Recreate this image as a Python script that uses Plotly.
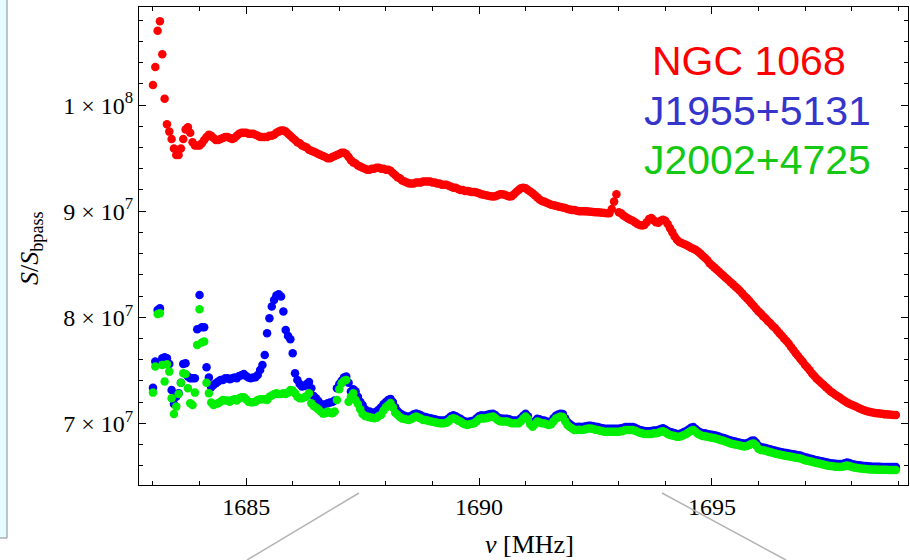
import plotly.graph_objects as go

# Channel frequencies (MHz) of the spectra: 320 channels, 0.05 MHz apart
FREQ_MHZ = [round(1683.0 + 0.05 * k, 2) for k in range(320)]

# S / S_bpass in units of 1e7, one value per channel
NGC1068_E7 = [
    10.19, 10.36, 10.70, 10.79, 10.48, 10.06, 9.82, 9.75, 9.68, 9.59, 9.53, 9.53, 9.59, 9.68, 9.77, 9.79, 9.74, 9.65, 9.62, 9.62,
    9.62, 9.64, 9.67, 9.70, 9.72, 9.71, 9.69, 9.67, 9.67, 9.68, 9.69, 9.70, 9.70, 9.69, 9.68, 9.69, 9.71, 9.73, 9.74, 9.74,
    9.74, 9.73, 9.73, 9.73, 9.72, 9.71, 9.70, 9.70, 9.70, 9.70, 9.71, 9.71, 9.72, 9.74, 9.75, 9.76, 9.76, 9.75, 9.73, 9.71,
    9.69, 9.67, 9.65, 9.64, 9.62, 9.61, 9.60, 9.58, 9.57, 9.56, 9.55, 9.54, 9.53, 9.52, 9.51, 9.50, 9.50, 9.51, 9.52, 9.53,
    9.54, 9.55, 9.55, 9.54, 9.51, 9.48, 9.46, 9.45, 9.43, 9.42, 9.41, 9.40, 9.39, 9.39, 9.40, 9.40, 9.41, 9.41, 9.40, 9.40,
    9.39, 9.39, 9.38, 9.36, 9.34, 9.32, 9.31, 9.29, 9.28, 9.27, 9.26, 9.26, 9.26, 9.27, 9.27, 9.27, 9.28, 9.28, 9.28, 9.28,
    9.27, 9.27, 9.26, 9.26, 9.25, 9.25, 9.25, 9.24, 9.23, 9.22, 9.22, 9.21, 9.20, 9.20, 9.19, 9.19, 9.185, 9.18, 9.18, 9.175,
    9.17, 9.16, 9.155, 9.15, 9.145, 9.14, 9.138, 9.14, 9.15, 9.16, 9.16, 9.155, 9.145, 9.138, 9.14, 9.16, 9.18, 9.20, 9.215, 9.22,
    9.215, 9.20, 9.185, 9.17, 9.15, 9.13, 9.11, 9.095, 9.09, 9.08, 9.07, 9.06, 9.055, 9.05, 9.045, 9.04, 9.035, 9.03, 9.02, 9.015,
    9.012, 9.01, 9.005, 9.00, 9.00, 9.00, 8.998, 8.996, 8.995, 8.993, 8.99, 8.99, 8.988, 8.985, 8.983, 8.98, 8.98, 9.02, 9.09, 9.16,
    8.99, 8.98, 8.96, 8.945, 8.93, 8.92, 8.91, 8.895, 8.88, 8.87, 8.865, 8.87, 8.895, 8.925, 8.935, 8.915, 8.895, 8.89, 8.91, 8.92,
    8.91, 8.88, 8.84, 8.80, 8.76, 8.73, 8.71, 8.70, 8.69, 8.68, 8.67, 8.655, 8.645, 8.635, 8.62, 8.60, 8.58, 8.56, 8.54, 8.51,
    8.49, 8.47, 8.45, 8.43, 8.41, 8.39, 8.37, 8.35, 8.33, 8.31, 8.29, 8.27, 8.25, 8.225, 8.20, 8.18, 8.155, 8.13, 8.105, 8.08,
    8.055, 8.035, 8.01, 7.99, 7.965, 7.945, 7.92, 7.90, 7.875, 7.85, 7.825, 7.80, 7.775, 7.75, 7.72, 7.69, 7.66, 7.635, 7.605, 7.58,
    7.55, 7.525, 7.50, 7.47, 7.445, 7.42, 7.40, 7.38, 7.36, 7.34, 7.32, 7.30, 7.285, 7.27, 7.255, 7.24, 7.225, 7.21, 7.195, 7.185,
    7.175, 7.165, 7.155, 7.145, 7.135, 7.125, 7.118, 7.112, 7.107, 7.102, 7.098, 7.095, 7.092, 7.089, 7.086, 7.084, 7.082, 7.080, 7.079, 7.078,
]

J1955_E7 = [
    7.336, 7.582, 8.069, 8.085, 7.613, 7.622, 7.613, 7.560, 7.314, 7.182, 7.251, 7.283, 7.383, 7.560, 7.566, 7.440, 7.424, 7.424, 7.424, 7.887,
    8.210, 7.905, 7.905, 7.528, 7.431, 7.339, 7.361, 7.377, 7.393, 7.409, 7.409, 7.424, 7.424, 7.415, 7.424, 7.431, 7.424, 7.446, 7.453, 7.465,
    7.446, 7.431, 7.424, 7.431, 7.434, 7.456, 7.503, 7.550, 7.644, 7.849, 7.990, 8.100, 8.163, 8.204, 8.217, 8.195, 8.053, 7.880, 7.824, 7.792,
    7.660, 7.472, 7.409, 7.371, 7.346, 7.352, 7.371, 7.390, 7.330, 7.258, 7.236, 7.211, 7.182, 7.173, 7.179, 7.189, 7.195, 7.201, 7.214, 7.330,
    7.371, 7.402, 7.431, 7.440, 7.383, 7.300, 7.321, 7.302, 7.251, 7.204, 7.173, 7.132, 7.113, 7.110, 7.100, 7.100, 7.110, 7.130, 7.150, 7.180,
    7.200, 7.220, 7.230, 7.200, 7.150, 7.115, 7.095, 7.080, 7.070, 7.065, 7.062, 7.070, 7.085, 7.092, 7.085, 7.075, 7.062, 7.058, 7.052, 7.047,
    7.042, 7.037, 7.032, 7.027, 7.027, 7.027, 7.032, 7.047, 7.067, 7.075, 7.067, 7.052, 7.043, 7.027, 7.017, 7.011, 7.017, 7.022, 7.027, 7.047,
    7.067, 7.075, 7.072, 7.075, 7.082, 7.087, 7.090, 7.077, 7.057, 7.047, 7.043, 7.043, 7.043, 7.037, 7.027, 7.027, 7.027, 7.027, 7.047, 7.072,
    7.090, 7.067, 7.017, 6.995, 7.017, 7.043, 7.037, 7.027, 7.027, 7.017, 7.011, 7.017, 7.047, 7.072, 7.082, 7.090, 7.087, 7.047, 7.011, 6.992,
    6.977, 6.964, 6.964, 6.967, 6.964, 6.967, 6.972, 6.977, 6.977, 6.972, 6.967, 6.964, 6.957, 6.952, 6.948, 6.948, 6.948, 6.948, 6.948, 6.948,
    6.948, 6.952, 6.957, 6.964, 6.964, 6.964, 6.964, 6.957, 6.947, 6.937, 6.932, 6.927, 6.925, 6.925, 6.927, 6.932, 6.932, 6.937, 6.947, 6.952,
    6.942, 6.927, 6.917, 6.912, 6.907, 6.900, 6.900, 6.907, 6.917, 6.927, 6.942, 6.957, 6.964, 6.947, 6.927, 6.916, 6.907, 6.905, 6.900, 6.895,
    6.891, 6.887, 6.882, 6.875, 6.867, 6.862, 6.853, 6.845, 6.837, 6.832, 6.827, 6.822, 6.817, 6.812, 6.807, 6.812, 6.822, 6.835, 6.837, 6.817,
    6.787, 6.775, 6.772, 6.767, 6.760, 6.755, 6.749, 6.743, 6.737, 6.732, 6.727, 6.723, 6.719, 6.715, 6.711, 6.707, 6.703, 6.699, 6.695, 6.687,
    6.679, 6.674, 6.669, 6.664, 6.657, 6.652, 6.647, 6.642, 6.637, 6.632, 6.627, 6.624, 6.621, 6.618, 6.616, 6.615, 6.617, 6.623, 6.630, 6.625,
    6.617, 6.611, 6.607, 6.604, 6.601, 6.598, 6.596, 6.594, 6.592, 6.591, 6.590, 6.589, 6.589, 6.588, 6.588, 6.588, 6.587, 6.587, 6.587, 6.587,
]

J2002_E7 = [
    7.289, 7.535, 8.031, 8.038, 7.550, 7.393, 7.556, 7.487, 7.236, 7.088, 7.157, 7.277, 7.383, 7.472, 7.465, 7.330, 7.189, 7.173, 7.289, 7.739,
    8.075, 7.761, 7.770, 7.383, 7.283, 7.195, 7.173, 7.182, 7.189, 7.204, 7.220, 7.214, 7.214, 7.204, 7.220, 7.226, 7.214, 7.236, 7.245, 7.245,
    7.226, 7.204, 7.198, 7.198, 7.204, 7.220, 7.226, 7.226, 7.226, 7.220, 7.251, 7.261, 7.273, 7.283, 7.277, 7.277, 7.283, 7.277, 7.289, 7.314,
    7.308, 7.283, 7.251, 7.236, 7.236, 7.245, 7.258, 7.283, 7.189, 7.163, 7.148, 7.132, 7.110, 7.091, 7.094, 7.110, 7.100, 7.094, 7.110, 7.220,
    7.321, 7.377, 7.402, 7.409, 7.204, 7.251, 7.283, 7.220, 7.182, 7.132, 7.088, 7.069, 7.063, 7.056, 7.053, 7.047, 7.053, 7.069, 7.080, 7.120,
    7.150, 7.170, 7.190, 7.150, 7.100, 7.080, 7.060, 7.045, 7.040, 7.035, 7.032, 7.040, 7.055, 7.063, 7.055, 7.045, 7.032, 7.030, 7.025, 7.020,
    7.015, 7.010, 7.005, 7.000, 7.000, 7.000, 7.005, 7.020, 7.040, 7.048, 7.040, 7.025, 7.016, 7.000, 6.990, 6.984, 6.990, 6.995, 7.000, 7.020,
    7.040, 7.048, 7.045, 7.048, 7.055, 7.060, 7.063, 7.050, 7.030, 7.020, 7.016, 7.016, 7.016, 7.010, 7.000, 7.000, 7.000, 7.000, 7.020, 7.045,
    7.063, 7.040, 6.990, 6.968, 6.990, 7.016, 7.010, 7.000, 7.000, 6.990, 6.984, 6.990, 7.020, 7.045, 7.055, 7.063, 7.060, 7.020, 6.984, 6.965,
    6.950, 6.937, 6.937, 6.940, 6.937, 6.940, 6.945, 6.950, 6.950, 6.945, 6.940, 6.937, 6.930, 6.925, 6.921, 6.921, 6.921, 6.921, 6.921, 6.921,
    6.921, 6.925, 6.930, 6.937, 6.937, 6.937, 6.937, 6.930, 6.920, 6.910, 6.905, 6.900, 6.898, 6.898, 6.900, 6.905, 6.905, 6.910, 6.920, 6.925,
    6.915, 6.900, 6.890, 6.885, 6.880, 6.873, 6.873, 6.880, 6.890, 6.900, 6.915, 6.930, 6.937, 6.920, 6.900, 6.889, 6.880, 6.878, 6.873, 6.868,
    6.864, 6.860, 6.855, 6.848, 6.840, 6.835, 6.826, 6.818, 6.810, 6.805, 6.800, 6.795, 6.790, 6.785, 6.780, 6.785, 6.795, 6.808, 6.810, 6.790,
    6.760, 6.748, 6.745, 6.740, 6.733, 6.728, 6.722, 6.716, 6.710, 6.705, 6.700, 6.696, 6.692, 6.688, 6.684, 6.680, 6.676, 6.672, 6.668, 6.660,
    6.652, 6.647, 6.642, 6.637, 6.630, 6.625, 6.620, 6.615, 6.610, 6.605, 6.600, 6.597, 6.594, 6.591, 6.589, 6.588, 6.590, 6.596, 6.603, 6.598,
    6.590, 6.584, 6.580, 6.577, 6.574, 6.571, 6.569, 6.567, 6.565, 6.564, 6.563, 6.562, 6.562, 6.561, 6.561, 6.561, 6.560, 6.560, 6.560, 6.560,
]

SERIES_NAMES = ["NGC 1068", "J1955+5131", "J2002+4725"]
X_TICKS = [1685, 1690, 1695]
Y_TICKS = [7e7, 8e7, 9e7, 1e8]
Y_TICK_TEXT = ["7 × 10<sup>7</sup>", "8 × 10<sup>7</sup>", "9 × 10<sup>7</sup>", "1 × 10<sup>8</sup>"]

MARKER_COLORS = ["#ff0000", "#0000ff", "#00ee00"]
LABEL_COLORS = ["#ff0000", "#3535cc", "#14c814"]

fig = go.Figure()
for name, vals, col in zip(SERIES_NAMES, [NGC1068_E7, J1955_E7, J2002_E7], MARKER_COLORS):
    fig.add_trace(go.Scatter(
        x=FREQ_MHZ, y=[v * 1e7 for v in vals], mode="markers", name=name,
        marker=dict(size=8.5, color=col, line=dict(width=0)),
        hoverinfo="skip",
    ))

serif = "Liberation Serif"
axis_common = dict(
    showline=True, linecolor="black", linewidth=1.2, mirror="allticks",
    ticks="inside", ticklen=7, tickwidth=1, tickcolor="black",
    showgrid=False, zeroline=False,
    tickfont=dict(family=serif, size=24, color="black"),
)

fig.update_xaxes(
    range=[1682.70, 1699.21], tickvals=X_TICKS, ticktext=[str(t) for t in X_TICKS],
    minor=dict(dtick=1, tick0=1683, ticks="inside", ticklen=4, tickwidth=1, tickcolor="black", showgrid=False),
    **axis_common,
)
fig.update_yaxes(
    range=[6.418e7, 10.925e7], tickvals=Y_TICKS, ticktext=Y_TICK_TEXT,
    minor=dict(dtick=2e6, tick0=0, ticks="inside", ticklen=4, tickwidth=1, tickcolor="black", showgrid=False),
    **axis_common,
)

L, R, T, B = 139, 2, 7, 75
W, H = 910, 560
pw, ph = W - L - R, H - T - B


def px(xp):
    return (xp - L) / pw


def py(yp):
    return (H - B - yp) / ph


annotations = [
    dict(text="<i>S</i>/<i>S</i><sub>bpass</sub>", x=px(31), y=py(248), xref="paper", yref="paper",
         textangle=-90, showarrow=False, xanchor="center", yanchor="middle",
         font=dict(family=serif, size=26, color="black")),
    dict(text="<i>ν</i> [MHz]", x=px(529), y=py(544), xref="paper", yref="paper",
         showarrow=False, xanchor="center", yanchor="middle",
         font=dict(family=serif, size=26, color="black")),
]
label_pos = [(650, 61), (642, 111), (642, 160)]
for name, col, (lx, ly) in zip(SERIES_NAMES, LABEL_COLORS, label_pos):
    annotations.append(dict(text=name, x=px(lx), y=py(ly), xref="paper", yref="paper",
                            showarrow=False, xanchor="left", yanchor="middle",
                            font=dict(family="Liberation Sans", size=41, color=col)))

shapes = [
    dict(type="rect", xref="paper", yref="paper", x0=px(-2), x1=px(7), y0=py(538), y1=py(-2),
         fillcolor="#e6fbff", line=dict(color="#8a8a8a", width=1), layer="below"),
    dict(type="line", xref="paper", yref="paper", x0=px(247), y0=py(560), x1=px(359), y1=py(493),
         line=dict(color="#b4b4b4", width=1.5)),
    dict(type="line", xref="paper", yref="paper", x0=px(662), y0=py(493), x1=px(786), y1=py(560),
         line=dict(color="#b4b4b4", width=1.5)),
]

fig.update_layout(
    width=W, height=H, margin=dict(l=L, r=R, t=T, b=B),
    paper_bgcolor="white", plot_bgcolor="white", showlegend=False,
    annotations=annotations, shapes=shapes,
)

fig.write_html("out.html")
